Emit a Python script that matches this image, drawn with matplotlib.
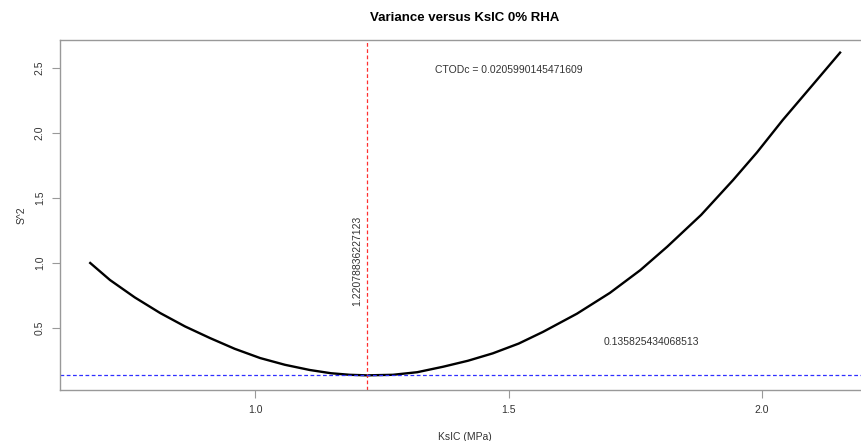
import matplotlib.pyplot as plt

# values
ksic = [0.675, 0.714, 0.763, 0.813, 0.862, 0.911, 0.960, 1.010, 1.059, 1.108,
        1.150, 1.187, 1.2208, 1.272, 1.320, 1.371, 1.420, 1.469, 1.520, 1.568,
        1.635, 1.700, 1.760, 1.813, 1.880, 1.943, 1.990, 2.041, 2.100, 2.154]
s2 = [1.000, 0.869, 0.735, 0.615, 0.512, 0.423, 0.340, 0.269, 0.217, 0.177,
      0.152, 0.140, 0.1358, 0.140, 0.160, 0.202, 0.248, 0.305, 0.380, 0.470,
      0.610, 0.770, 0.945, 1.125, 1.370, 1.638, 1.850, 2.100, 2.370, 2.618]
ksic_opt = 1.22078836227123
s2_min = 0.135825434068513
ctod_text = "CTODc = 0.0205990145471609"

plt.rcParams['font.family'] = ['Liberation Sans', 'DejaVu Sans']
txt = '#333333'
edge = '#999999'

fig = plt.figure(figsize=(8.61, 4.41), dpi=100)
ax = fig.add_axes([60 / 861, 1 - 390 / 441, 810 / 861, 350 / 441])

ax.plot(ksic, s2, color='black', lw=1.7, solid_joinstyle='round')
ax.axvline(ksic_opt, color='#ff3030', ls=(0, (3, 2)), lw=0.9)
ax.axhline(s2_min, color='#3030ff', ls=(0, (3, 2)), lw=0.9)

ax.text(1.5, 2.485, ctod_text, ha='center', va='center', fontsize=7.5, color=txt)
ax.text(1.781, 0.392, str(s2_min), ha='center', va='center', fontsize=7.5, color=txt)
ax.text(1.201, 1.02, str(ksic_opt), ha='center', va='center', rotation=90,
        fontsize=7.5, color=txt)

ax.set_xlim(0.6154, 2.213)
ax.set_ylim(0.0231, 2.715)
ax.set_xticks([1.0, 1.5, 2.0])
ax.set_yticks([0.5, 1.0, 1.5, 2.0, 2.5])
ax.tick_params(length=6, width=0.8, color=edge, labelsize=7.5, labelcolor=txt, pad=5)
ax.tick_params(axis='y', pad=5)
for lab in ax.get_yticklabels():
    lab.set_rotation(90)
    lab.set_va('center')
for s in ax.spines.values():
    s.set_color(edge)
    s.set_linewidth(1.0)

ax.set_title("Variance versus KsIC 0% RHA", fontsize=9.5, fontweight='bold', pad=14)
ax.set_xlabel("KsIC (MPa)", fontsize=7.5, color=txt, labelpad=12)
ax.set_ylabel("S^2", fontsize=7.5, color=txt, labelpad=6)

fig.savefig("out.png", dpi=100)
